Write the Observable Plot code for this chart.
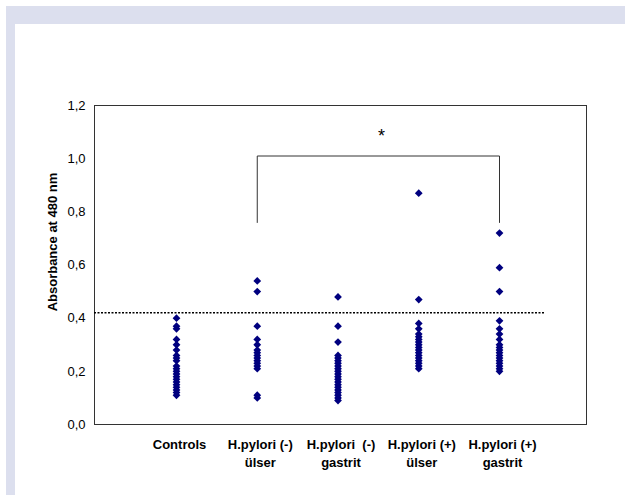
<!DOCTYPE html>
<html>
<head>
<meta charset="utf-8">
<script src="https://cdn.jsdelivr.net/npm/d3@7"></script>
<script src="https://cdn.jsdelivr.net/npm/@observablehq/plot@0.6"></script>
<style>
  html, body { margin: 0; padding: 0; background: #ffffff; }
  #wrap { position: relative; width: 625px; height: 495px; overflow: hidden; font-family: "Liberation Sans", Arial, sans-serif; }
  .band { position: absolute; background: #dcdfee; }
</style>
</head>
<body>
<div id="wrap">
  <div id="chart"></div>
  <div class="band" style="left:6px; top:6px; width:619px; height:18px;"></div>
  <div class="band" style="left:6px; top:6px; width:9px; height:489px;"></div>
</div>
<script>
// Category labels (tick labels)
const categories = [
  "Controls",
  "H.pylori (-)\nülser",
  "H.pylori  (-)\ngastrit",
  "H.pylori (+)\nülser",
  "H.pylori (+)\ngastrit"
];
const yLabel = "Absorbance at 480 nm";

// Absorbance values
const controls = [0.40, 0.37, 0.36, 0.32, 0.30, 0.28, 0.26, 0.25, 0.24, 0.22, 0.21, 0.20, 0.19, 0.18, 0.17, 0.16, 0.15, 0.14, 0.13, 0.12, 0.11];
const hpNegUlser = [0.54, 0.50, 0.37, 0.32, 0.30, 0.28, 0.27, 0.26, 0.25, 0.24, 0.23, 0.22, 0.21, 0.11, 0.10];
const hpNegGastrit = [0.48, 0.37, 0.31, 0.26, 0.25, 0.24, 0.23, 0.22, 0.21, 0.20, 0.19, 0.18, 0.17, 0.16, 0.15, 0.14, 0.13, 0.12, 0.11, 0.10, 0.09];
const hpPosUlser = [0.87, 0.47, 0.38, 0.36, 0.34, 0.33, 0.32, 0.31, 0.30, 0.29, 0.28, 0.27, 0.26, 0.25, 0.24, 0.23, 0.22, 0.21];
const hpPosGastrit = [0.72, 0.59, 0.50, 0.39, 0.36, 0.34, 0.32, 0.30, 0.29, 0.28, 0.27, 0.26, 0.25, 0.24, 0.23, 0.22, 0.21, 0.20];

// Cut-off line value
const cutoff = 0.42;

// Significance bracket: between group 1 and group 4
const bracketGroups = [1, 4];
const bracketBottom = 0.76;
const bracketTop = 1.01;
const starLabel = "*";
const starY = 1.095;

const yTicks = [0, 0.2, 0.4, 0.6, 0.8, 1.0, 1.2];

const series = [controls, hpNegUlser, hpNegGastrit, hpPosUlser, hpPosGastrit];
const points = series.flatMap((vals, i) => vals.map(v => ({group: i, value: v})));

const bracket = [
  {x: bracketGroups[0], y: bracketBottom},
  {x: bracketGroups[0], y: bracketTop},
  {x: bracketGroups[1], y: bracketTop},
  {x: bracketGroups[1], y: bracketBottom}
];
const star = [{x: (bracketGroups[0] + bracketGroups[1]) / 2, y: starY, t: starLabel}];

const fmt = d => d3.format(".1f")(d).replace(".", ",");

const chart = Plot.plot({
  width: 625,
  height: 495,
  marginLeft: 94,
  marginRight: 39,
  marginTop: 105,
  marginBottom: 71,
  style: {background: "transparent", fontFamily: "'Liberation Sans', Arial, sans-serif"},
  x: {type: "linear", domain: [0, 4], range: [176, 499]},
  y: {domain: [0, 1.2]},
  marks: [
    Plot.frame({stroke: "#333", strokeWidth: 1}),
    Plot.ruleY([cutoff], {stroke: "#000", strokeWidth: 1.5, strokeDasharray: "2,1.5", insetRight: 41}),
    Plot.line(bracket, {x: "x", y: "y", stroke: "#333", strokeWidth: 1}),
    Plot.text(star, {x: "x", y: "y", text: "t", fontSize: 18, dx: 3, dy: 3, fill: "#000"}),
    Plot.dot(points, {x: "group", y: "value", symbol: "diamond2", r: 3.5, fill: "#00007f", stroke: "none"}),
    Plot.axisY({
      ticks: yTicks,
      tickFormat: fmt,
      tickSize: 0,
      tickPadding: 9,
      fontSize: 13,
      fill: "#000",
      label: null
    }),
    Plot.text([yLabel], {
      frameAnchor: "left",
      rotate: -90,
      dx: -42,
      dy: -23,
      fontSize: 13,
      fontWeight: "bold",
      fill: "#000",
      textAnchor: "middle"
    }),
    Plot.axisX({
      ticks: [0, 1, 2, 3, 4],
      tickFormat: i => categories[i],
      tickSize: 0,
      tickPadding: 11,
      fontSize: 13,
      fontWeight: "bold",
      lineHeight: 1.42,
      dx: 3,
      fill: "#000",
      label: null
    })
  ]
});
document.getElementById("chart").appendChild(chart);
</script>
</body>
</html>
